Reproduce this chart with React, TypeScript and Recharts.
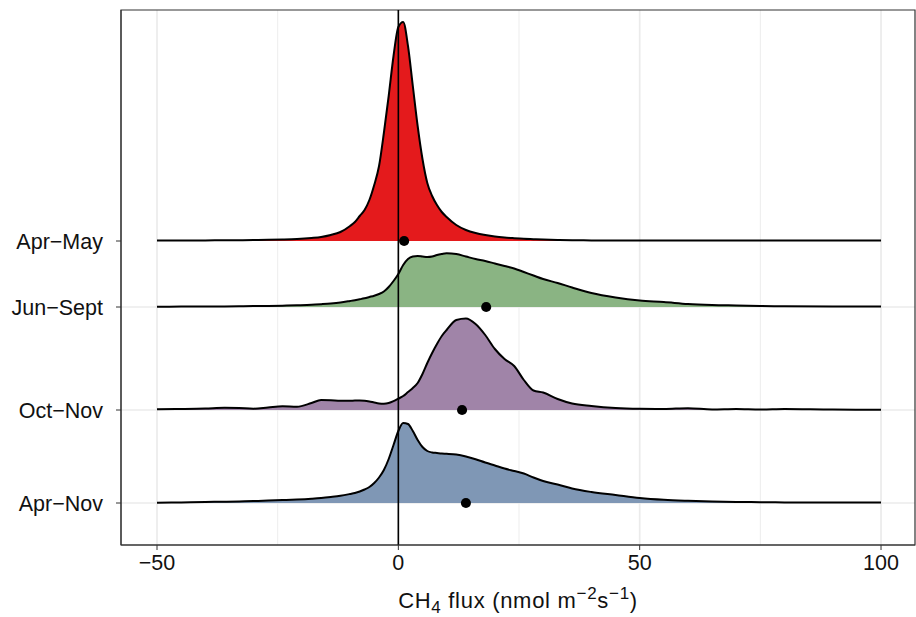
import { ComposedChart, Area, Scatter, XAxis, YAxis, ZAxis, CartesianGrid, ReferenceLine, ReferenceArea } from 'recharts';

// flux grid (nmol m-2 s-1) shared by all ridges
const fluxX = [-50, -45, -40, -36, -33, -30, -27, -24, -21, -18, -16, -14, -12, -10, -9, -8, -7, -6, -5, -4, -3, -2, -1, 0, 1, 2, 3, 4, 5, 6, 7, 8, 9, 10, 12, 14, 16, 18, 20, 22, 24, 26, 28, 30, 33, 36, 40, 45, 50, 55, 60, 65, 70, 75, 80, 90, 100];

// ridge heights (scaled density) for each season
const aprMay = [0.5, 0.5, 0.6, 0.7, 0.8, 1, 1.2, 1.5, 2, 3, 4, 6, 9, 15, 19, 25, 31, 41, 56, 75, 108, 145, 185, 214, 219, 195, 155, 115, 82, 58, 45, 36, 29, 24, 16, 11, 8, 6, 4.5, 3.5, 2.8, 2.2, 1.8, 1.4, 1, 0.8, 0.6, 0.5, 0.5, 0.5, 0.4, 0.4, 0.4, 0.4, 0.4, 0.4, 0.4];
const junSept = [0.3, 0.4, 0.5, 0.6, 0.7, 0.9, 1, 1.3, 1.7, 2.2, 2.8, 3.5, 4.5, 6, 6.8, 7.7, 8.7, 10, 11.3, 13, 15.5, 20, 26, 33, 42, 48, 50.5, 51, 50.5, 50, 50.5, 52, 53, 53.7, 53, 50.5, 48, 46, 43.5, 41, 38.5, 35, 31.5, 28, 24, 19.5, 14, 9.5, 6.5, 5, 3, 2, 1.5, 1, 0.8, 0.6, 0.5];
const octNov = [0.7, 1, 1.5, 2.3, 2, 1.3, 2.5, 3.7, 3.3, 7, 10, 9.8, 9.3, 9.3, 9.4, 9.4, 9.2, 8.5, 7.5, 6.6, 6.3, 7, 8.8, 11.3, 14, 18, 22, 27, 36, 47, 57, 66, 74, 80, 90, 91.5, 86, 75, 61, 51, 44, 30, 19.5, 17.5, 11, 6.5, 4, 2, 1.2, 1, 1.8, 0.5, 1, 0.5, 1, 0.4, 0.3];
const aprNov = [0.3, 0.6, 1, 1.3, 1.6, 2, 2.4, 2.9, 3.5, 4.3, 5, 6, 7.2, 9, 10, 11.5, 13.5, 16, 20, 25.5, 33, 44, 58, 72, 80, 79, 72, 63, 56, 52, 50.5, 50, 49.5, 49.2, 48.4, 46.5, 43.8, 40.5, 37.5, 34.5, 32, 29.5, 25.5, 22, 18.5, 14.5, 11, 8, 5, 3.2, 2.2, 1.5, 1.1, 0.8, 0.6, 0.5, 0.4];

const seasons = ['Apr\u2212May', 'Jun\u2212Sept', 'Oct\u2212Nov', 'Apr\u2212Nov'];
const seasonPos = [304, 238, 135, 42];
const seasonMean = [1.2, 18.2, 13.2, 14];
const seasonColor = ['#E41A1C', '#8AB483', '#A084A8', '#7F97B5'];
const ridges = [aprMay, junSept, octNov, aprNov];

const xMin = -57.46;
const xMax = 107.04;

const table = fluxX.map((x, i) => {
  const row: any = { x };
  ridges.forEach((r, k) => { row['s' + k] = seasonPos[k] + r[i]; });
  return row;
});

const means = seasonMean.map((m, k) => ({ x: m, y: seasonPos[k] }));

const fmt = (v: number) => String(v).replace('-', '\u2212');

function AxisTitle(props: any) {
  const vb = props.viewBox || {};
  const cx = (vb.x ?? 121) + (vb.width ?? 794) / 2;
  return (
    <text x={cx} y={608} textAnchor="middle" fontSize={22} fill="#111" letterSpacing={0.7}>
      CH<tspan dy={5} fontSize={17}>4</tspan>
      <tspan dy={-5}> flux (nmol m</tspan>
      <tspan dy={-9} fontSize={17}>{'\u22122'}</tspan>
      <tspan dy={9}>s</tspan>
      <tspan dy={-9} fontSize={17}>{'\u22121'}</tspan>
      <tspan dy={9}>)</tspan>
    </text>
  );
}

export default function App() {
  return (
    <div style={{ position: 'absolute', left: 0, top: 0, fontFamily: '"Liberation Sans", Arial, sans-serif' }}>
      <ComposedChart width={916} height={617} data={table} margin={{ top: 10, right: 1, bottom: 0, left: 0 }}>
        <CartesianGrid verticalValues={[-25, 25, 75]} horizontal={false} stroke="#EBEBEB" strokeWidth={0.9} />
        <CartesianGrid verticalValues={[-50, 0, 50, 100]} horizontalValues={[238, 135, 42]} stroke="#EBEBEB" strokeWidth={1.7} />
        <XAxis dataKey="x" type="number" domain={[xMin, xMax]} ticks={[-50, 0, 50, 100]} allowDataOverflow
          height={72} tickSize={5} tickMargin={5} tickFormatter={fmt}
          tick={{ fill: '#111', fontSize: 21.5 }} stroke="#333" axisLine={{ stroke: '#333' }}
          label={<AxisTitle />} />
        <YAxis type="number" domain={[0, 535]} ticks={seasonPos} width={121} tickSize={5} tickMargin={13}
          tickFormatter={(v: number) => seasons[seasonPos.indexOf(v)] ?? ''}
          tick={{ fill: '#111', fontSize: 21.5 }} stroke="#333" axisLine={{ stroke: '#333' }} />
        <ZAxis range={[80, 80]} />
        {seasons.map((s, k) => (
          <Area key={s} dataKey={'s' + k} type="monotone" baseValue={seasonPos[k]} fill={seasonColor[k]} fillOpacity={1}
            stroke="#000" strokeWidth={2} isAnimationActive={false} dot={false} activeDot={false} />
        ))}
        <ReferenceLine x={0} stroke="#000" strokeWidth={1.6} />
        <Scatter data={means} dataKey="y" fill="#000" isAnimationActive={false} />
        <ReferenceArea x1={xMin} x2={xMax} y1={0} y2={535} fill="none" stroke="#333" strokeWidth={1.2} />
      </ComposedChart>
    </div>
  );
}
